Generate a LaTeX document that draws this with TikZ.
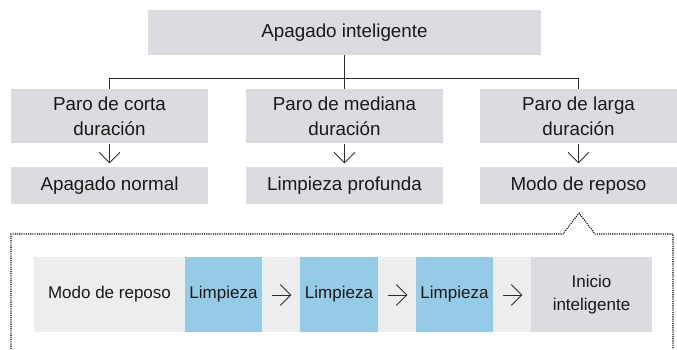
\documentclass[tikz,border=0pt]{standalone}
\usepackage{fontspec}
\setmainfont{Liberation Sans}
\usetikzlibrary{calc}
\definecolor{boxgray}{RGB}{218,220,223}
\definecolor{bandgray}{RGB}{236,237,239}
\definecolor{cleanblue}{RGB}{150,203,232}
\definecolor{linecol}{RGB}{45,45,45}
\definecolor{txt}{RGB}{25,25,25}
\tikzset{
  graybox/.style={fill=boxgray, draw=none, inner sep=0pt, align=center, text=txt, font=\fontsize{18.8}{25}\selectfont},
  bandtext/.style={inner sep=0pt, align=center, text=txt, font=\fontsize{17}{23}\selectfont},
  conn/.style={draw=linecol, line width=0.9pt},
  tipline/.style={draw=linecol, line width=0.9pt, line join=miter},
  frame/.style={draw=black, line width=1.1pt, dash pattern=on 1.1pt off 1.1pt}
}
\begin{document}
\begin{tikzpicture}[x=1pt,y=-1pt]
\useasboundingbox (0,0) rectangle (677,349);
% top
\node[graybox, minimum width=393pt, minimum height=45pt] (top) at (344.5,32.5) {Apagado inteligente};
% children
\node[graybox, minimum width=197pt, minimum height=54pt] (c1) at (109.5,116) {Paro de corta\\duración};
\node[graybox, minimum width=197pt, minimum height=54pt] (c2) at (344.5,116) {Paro de mediana\\duración};
\node[graybox, minimum width=197pt, minimum height=54pt] (c3) at (578.5,116) {Paro de larga\\duración};
% second row
\node[graybox, minimum width=197pt, minimum height=37pt] (r1) at (109.5,185.5) {Apagado normal};
\node[graybox, minimum width=197pt, minimum height=37pt] (r2) at (344.5,185.5) {Limpieza profunda};
\node[graybox, minimum width=197pt, minimum height=37pt] (r3) at (578.5,185.5) {Modo de reposo};
% tree connectors
\coordinate (hub) at (344.5,78);
\coordinate (hl) at (109.5,78);
\coordinate (hr) at (578.5,78);
\draw[conn] (top.south) -- (hub);
\draw[conn] (c1.north) -- (hl) -- (hr) -- (c3.north);
\draw[conn] (hub) -- (c2.north);
% vertical arrows (shaft + open chevron)
\foreach \a/\b in {c1/r1, c2/r2, c3/r3}{
  \draw[conn] ($(\a.south)+(0,1)$) -- ($(\b.north)+(0,-4)$);
  \draw[tipline] ($(\b.north)+(-10.5,-14.5)$) -- ($(\b.north)+(0,-4)$) -- ($(\b.north)+(10.5,-14.5)$);
}
% dotted frame
\coordinate (fbl) at (11,349);
\coordinate (ftl) at (11,234);
\coordinate (fpl) at (563,234);
\coordinate (fpk) at (579,213);
\coordinate (fpr) at (595,234);
\coordinate (ftr) at (673,234);
\coordinate (fbr) at (673,349);
\draw[frame] (fbl) -- (ftl) -- (fpl) -- (fpk) -- (fpr) -- (ftr) -- (fbr);
% band
\fill[bandgray] (34,257) rectangle (652,332);
\node[bandtext] (m) at (109.5,294.5) {Modo de reposo};
\node[fill=cleanblue, minimum width=77pt, minimum height=75pt, inner sep=0pt, bandtext] (b1) at (223.5,294.5) {Limpieza};
\node[fill=cleanblue, minimum width=78pt, minimum height=75pt, inner sep=0pt, bandtext] (b2) at (339,294.5) {Limpieza};
\node[fill=cleanblue, minimum width=77pt, minimum height=75pt, inner sep=0pt, bandtext] (b3) at (454.5,294.5) {Limpieza};
\node[fill=boxgray, minimum width=121pt, minimum height=75pt, inner sep=0pt, bandtext] (ini) at (591.5,294.5) {Inicio\\inteligente};
\foreach \a/\b in {b1/b2, b2/b3, b3/ini}{
  \draw[conn] ($(\a.east)+(10,0.5)$) -- ($(\b.west)+(-9,0.5)$);
  \draw[tipline] ($(\b.west)+(-19.5,-10)$) -- ($(\b.west)+(-9,0.5)$) -- ($(\b.west)+(-19.5,11)$);
}
\end{tikzpicture}
\end{document}
